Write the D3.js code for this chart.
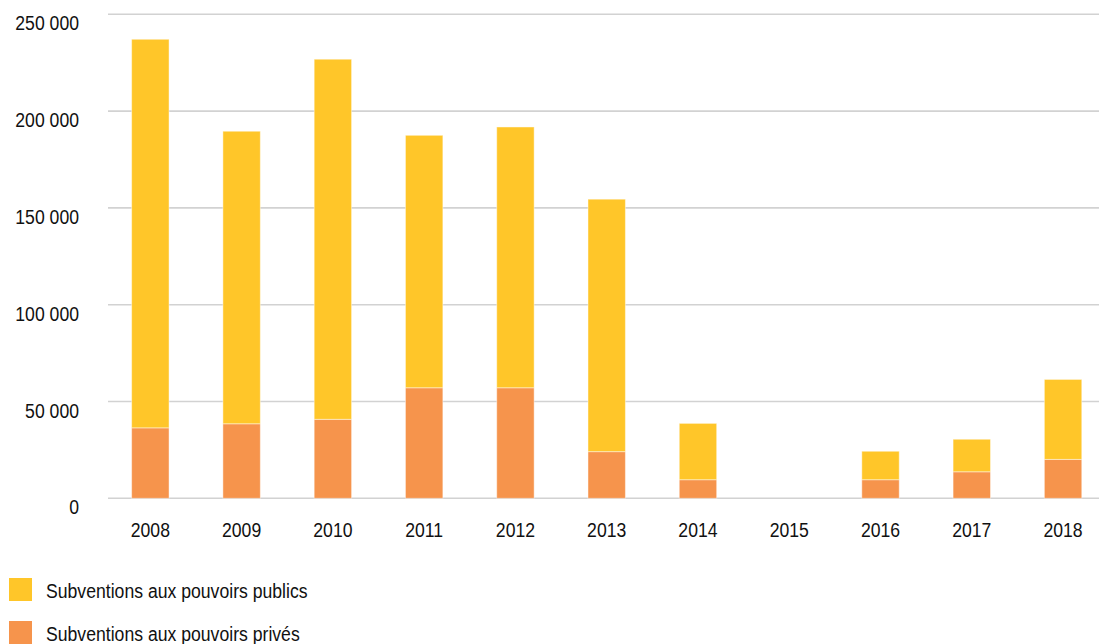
<!DOCTYPE html>
<html>
<head>
<meta charset="utf-8">
<script src="https://cdn.jsdelivr.net/npm/d3@7"></script>
<style>
  body { margin: 0; background: #fff; }
  svg text { font-family: "Liberation Sans", Arial, sans-serif; fill: #111; }
</style>
</head>
<body>
<div class="chart"></div>
<script>
  // data
  var years   = ["2008","2009","2010","2011","2012","2013","2014","2015","2016","2017","2018"];
  var prives  = [36400, 38500, 40800, 57100, 57100, 24100, 9600, 0, 9600, 13700, 20100];
  var totals  = [237100, 189600, 226800, 187500, 191800, 154500, 38700, 0, 24300, 30500, 61400];
  var publics = totals.map(function(t, i) { return t - prives[i]; });
  var yTicks  = [0, 50000, 100000, 150000, 200000, 250000];
  var seriesNames  = ["Subventions aux pouvoirs publics", "Subventions aux pouvoirs privés"];
  var seriesColors = ["#FFC629", "#F6944C"];

  var width = 1099, height = 644;
  var squeeze = 0.84; // no condensed font installed, so narrow the regular one

  var svg = d3.select(".chart").append("svg")
              .attr("width", width)
              .attr("height", height);

  var x = d3.scaleBand()
            .domain(years)
            .range([104.7, 1108.7])
            .paddingInner(0.59)
            .paddingOuter(0.295);

  var y = d3.scaleLinear()
            .domain([0, 250000])
            .range([498.3, 14.3]);

  var fmt = function(v) { return d3.format(",")(v).replace(/,/g, " "); };

  function place(px, py) {
    return "translate(" + px + "," + py + ") scale(" + squeeze + ",1)";
  }

  // gridlines
  svg.append("g").selectAll("line")
     .data(yTicks)
     .enter().append("line")
     .attr("x1", 108)
     .attr("x2", width)
     .attr("y1", function(d) { return y(d); })
     .attr("y2", function(d) { return y(d); })
     .attr("stroke", "#d2d2d2")
     .attr("stroke-width", 1.6);

  // y labels
  svg.append("g").selectAll("text")
     .data(yTicks)
     .enter().append("text")
     .attr("transform", function(d) { return place(79, y(d) + 16); })
     .attr("text-anchor", "end")
     .style("font-size", "21px")
     .text(fmt);

  // stacked bars
  var rows = years.map(function(yr, i) {
    return { year: yr, prives: prives[i], publics: publics[i] };
  });
  var stack = d3.stack().keys(["prives", "publics"]);
  var layers = stack(rows);
  var colorOf = { prives: seriesColors[1], publics: seriesColors[0] };

  svg.append("g").selectAll("g")
     .data(layers)
     .enter().append("g")
     .attr("fill", function(d) { return colorOf[d.key]; })
     .selectAll("rect")
     .data(function(d) { return d.filter(function(s) { return s[1] - s[0] > 0; }); })
     .enter().append("rect")
     .attr("x", function(d) { return x(d.data.year); })
     .attr("width", x.bandwidth())
     .attr("y", function(d) { return y(d[1]); })
     .attr("height", function(d) { return y(d[0]) - y(d[1]); })
     .attr("stroke", "rgba(255,255,255,0.45)")
     .attr("stroke-width", 1);

  // x labels
  svg.append("g").selectAll("text")
     .data(years)
     .enter().append("text")
     .attr("transform", function(d) { return place(x(d) + x.bandwidth() / 2, 537); })
     .attr("text-anchor", "middle")
     .style("font-size", "21px")
     .text(function(d) { return d; });

  // legend
  var legend = svg.append("g").selectAll("g")
                  .data(seriesNames)
                  .enter().append("g")
                  .attr("transform", function(d, i) { return "translate(9," + (578 + i * 43) + ")"; });
  legend.append("rect")
        .attr("width", 23)
        .attr("height", 23)
        .attr("fill", function(d, i) { return seriesColors[i]; });
  legend.append("text")
        .attr("transform", place(37, 19.5))
        .style("font-size", "21px")
        .text(function(d) { return d; });
</script>
</body>
</html>
